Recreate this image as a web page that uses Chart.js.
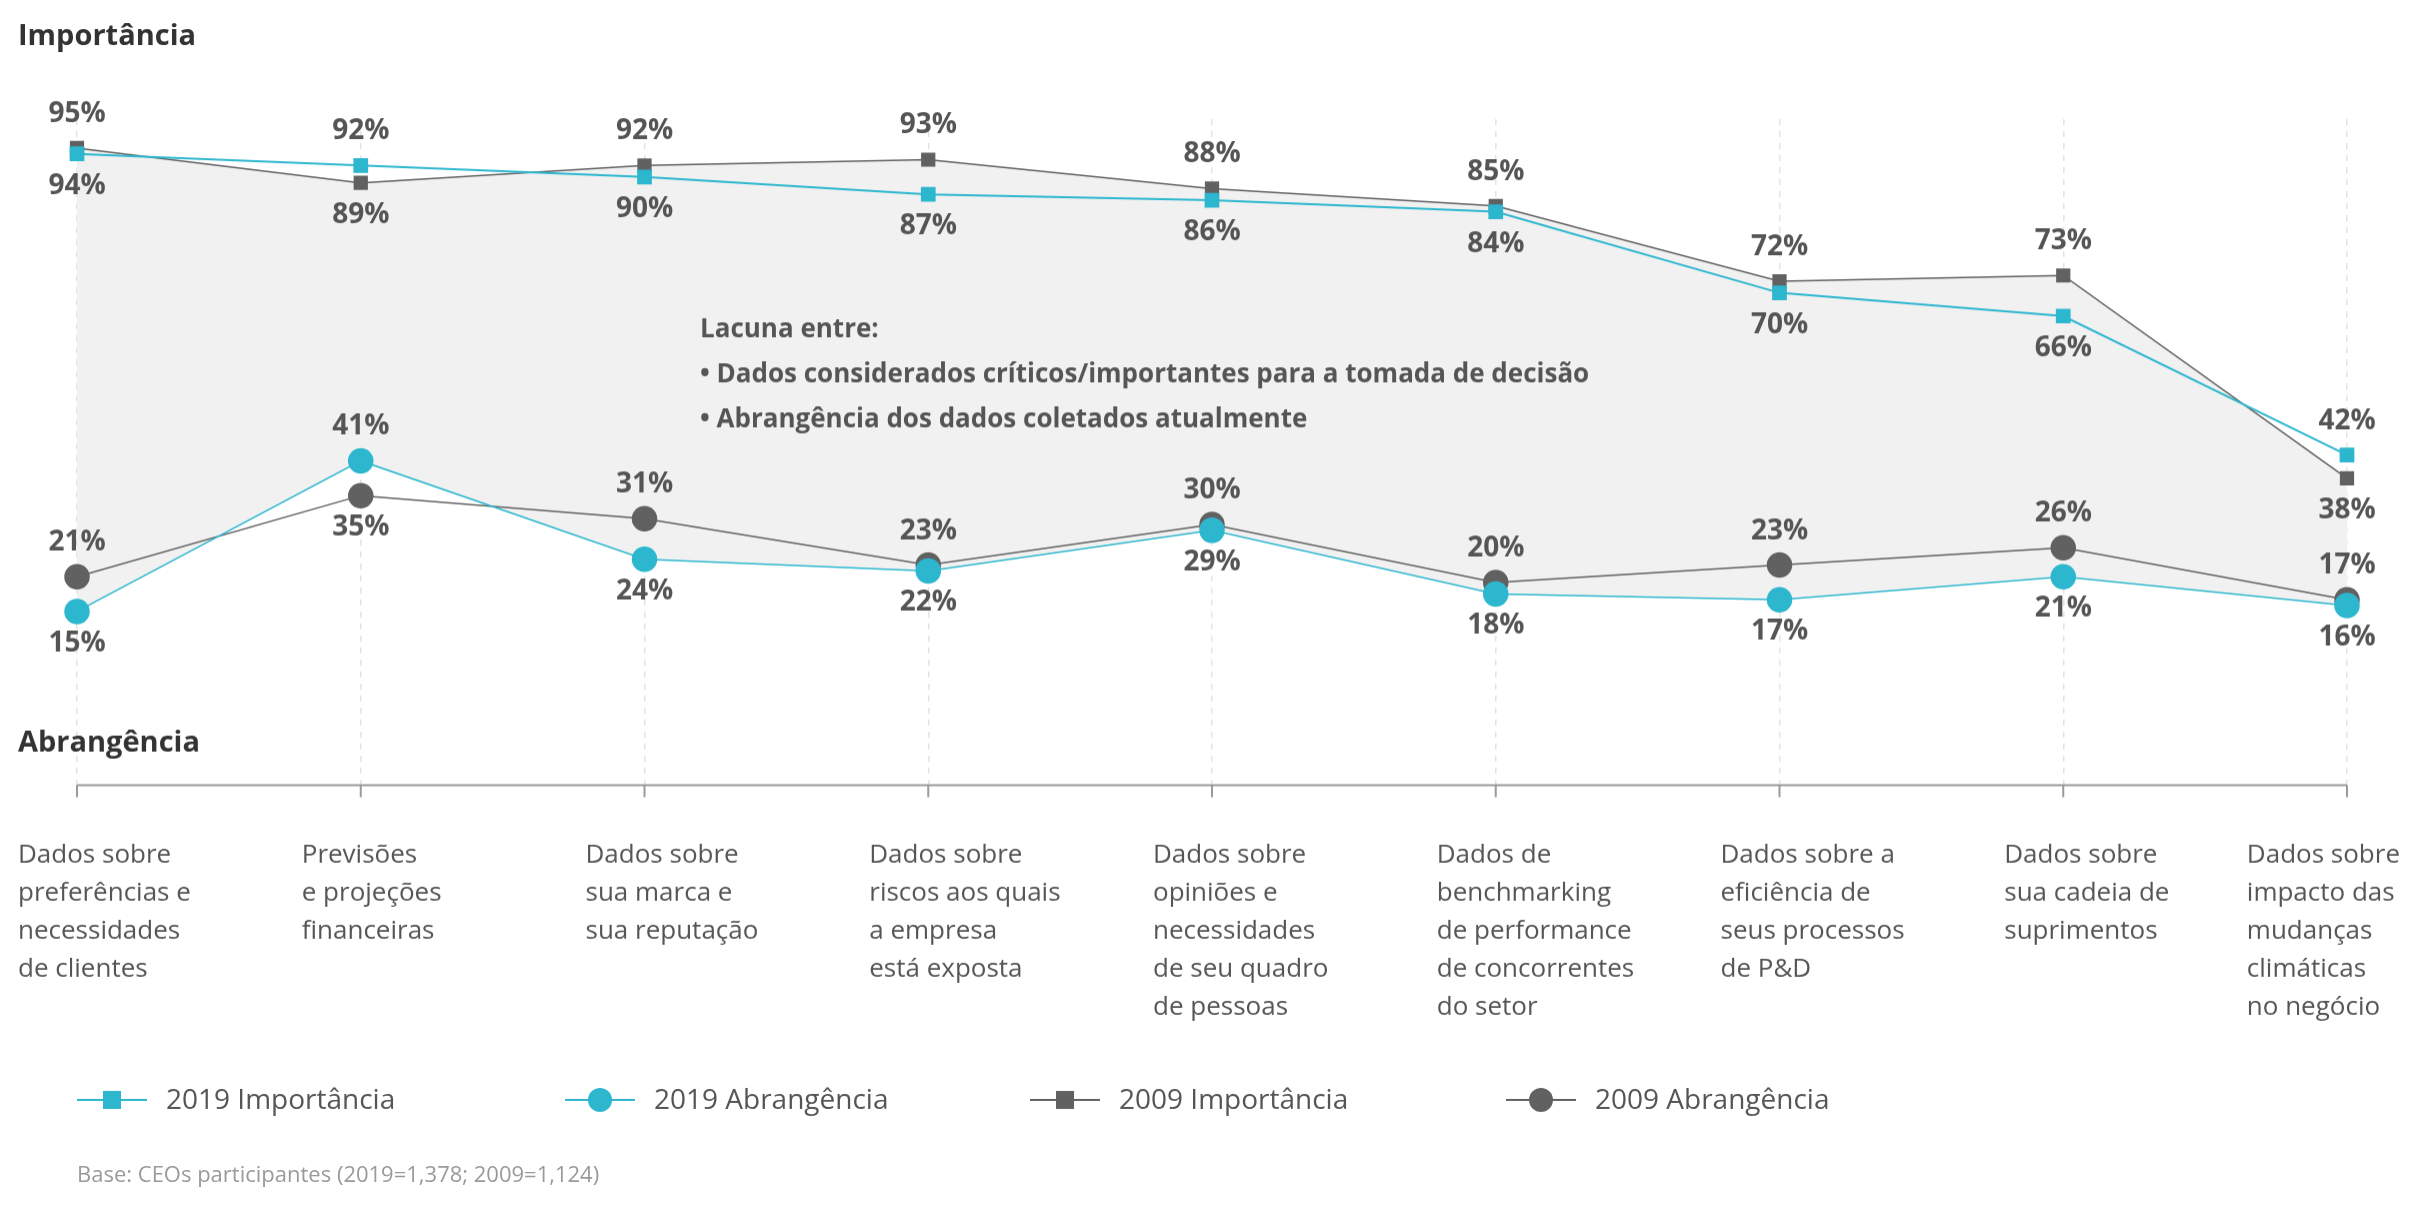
<!DOCTYPE html>
<html>
<head>
<meta charset="utf-8">
<script src="https://cdn.jsdelivr.net/npm/chart.js@4"></script>
<style>
 html,body {margin:0;padding:0;background:#fff;}
 #wrap {position:relative;width:2409px;height:1214px;}
</style>
</head>
<body>
<div id="wrap"><canvas id="chartID"></canvas></div>
<script>
// categories (multi-line labels)
var categories=[
 ['Dados sobre','preferências e','necessidades','de clientes'],
 ['Previsões','e projeções','financeiras'],
 ['Dados sobre','sua marca e','sua reputação'],
 ['Dados sobre','riscos aos quais','a empresa','está exposta'],
 ['Dados sobre','opiniões e','necessidades','de seu quadro','de pessoas'],
 ['Dados de','benchmarking','de performance','de concorrentes','do setor'],
 ['Dados sobre a','eficiência de','seus processos','de P&D'],
 ['Dados sobre','sua cadeia de','suprimentos'],
 ['Dados sobre','impacto das','mudanças','climáticas','no negócio']
];
var imp2019=[94,92,90,87,86,84,70,66,42];
var imp2009=[95,89,92,93,88,85,72,73,38];
var abr2019=[15,41,24,22,29,18,17,21,16];
var abr2009=[21,35,31,23,30,20,23,26,17];
var seriesNames=['2019 Importância','2009 Importância','2019 Abrangência','2009 Abrangência'];

var CYAN='#2db7cf', GRAY='#616161', TXT='#555555';
var FONT='"Open Sans", "Noto Sans", sans-serif';

var extras={
 id:'extras',
 afterDraw:function(chart) {
  var c=chart.ctx, x=chart.scales.x, a=chart.chartArea;
  c.save();
  // value labels: higher of each pair above, lower below
  c.font='bold 28px '+FONT; c.fillStyle=TXT; c.textAlign='center';
  [[0,1],[2,3]].forEach(function(pair){
   var m0=chart.getDatasetMeta(pair[0]), m1=chart.getDatasetMeta(pair[1]);
   var d0=chart.data.datasets[pair[0]].data, d1=chart.data.datasets[pair[1]].data;
   for (var i=0;i<d0.length;i++) {
    var p0=m0.data[i], p1=m1.data[i];
    var top=(p0.y<=p1.y)?p0:p1, bot=(p0.y<=p1.y)?p1:p0;
    var vt=(p0.y<=p1.y)?d0[i]:d1[i], vb=(p0.y<=p1.y)?d1[i]:d0[i];
    c.textBaseline='bottom'; c.fillText(vt+'%',top.x,top.y-20);
    c.textBaseline='top'; c.fillText(vb+'%',bot.x,bot.y+18);
   }
  });
  // x labels, left aligned blocks
  c.font='26px '+FONT; c.textAlign='left'; c.textBaseline='top'; c.fillStyle=TXT;
  categories.forEach(function(lines,i){
   var px=x.getPixelForValue(i)-59;
   var w=Math.max.apply(null,lines.map(function(l){return c.measureText(l).width;}));
   if (px+w>2400) px=2400-w;
   lines.forEach(function(l,j){c.fillText(l,px,842+j*38);});
  });
  // axis line + ticks
  c.strokeStyle='#9a9a9a'; c.lineWidth=2;
  c.beginPath(); c.moveTo(a.left,a.bottom); c.lineTo(a.right,a.bottom); c.stroke();
  for (var i=0;i<categories.length;i++) {
   var tx=x.getPixelForValue(i);
   c.beginPath(); c.moveTo(tx,a.bottom); c.lineTo(tx,a.bottom+12); c.stroke();
  }
  // titles
  c.fillStyle='#333'; c.font='bold 29px '+FONT; c.textBaseline='middle';
  c.fillText('Importância',18,37);
  c.fillText('Abrangência',18,743);
  // annotation
  c.fillStyle=TXT; c.font='bold 26px '+FONT;
  c.fillText('Lacuna entre:',700,330);
  c.fillText('• Dados considerados críticos/importantes para a tomada de decisão',700,375);
  c.fillText('• Abrangência dos dados coletados atualmente',700,420);
  // legend
  var lx=[77,565,1030,1506], cols=[CYAN,CYAN,GRAY,GRAY], sq=[true,false,true,false];
  var names=[seriesNames[0],seriesNames[2],seriesNames[1],seriesNames[3]];
  c.font='28px '+FONT;
  for (var k=0;k<4;k++) {
   var y=1099;
   c.strokeStyle=cols[k]; c.lineWidth=2;
   c.beginPath(); c.moveTo(lx[k],y); c.lineTo(lx[k]+70,y); c.stroke();
   c.fillStyle=cols[k];
   if (sq[k]) c.fillRect(lx[k]+26,y-9,18,18);
   else {c.beginPath(); c.arc(lx[k]+35,y,12,0,Math.PI*2); c.fill();}
   c.fillStyle=TXT; c.fillText(names[k],lx[k]+89,y+1);
  }
  c.fillStyle='#9a9a9a'; c.font='22px '+FONT;
  c.fillText('Base: CEOs participantes (2019=1,378; 2009=1,124)',77,1175);
  c.restore();
 }
};

var ctx=document.getElementById('chartID').getContext('2d');
var chart=new Chart(ctx,{
 type:'line',
 data:{labels:categories.map(function(l){return l.join(' ');}),datasets:[
  {label:seriesNames[0],data:imp2019,borderColor:CYAN,backgroundColor:CYAN,pointStyle:'rect',pointRadius:9,borderWidth:2,fill:false,order:1},
  {label:seriesNames[1],data:imp2009,borderColor:GRAY,backgroundColor:'#f1f1f1',pointBackgroundColor:GRAY,pointStyle:'rect',pointRadius:9,borderWidth:1.5,fill:'+1',order:2},
  {label:seriesNames[2],data:abr2019,borderColor:CYAN,backgroundColor:CYAN,pointStyle:'circle',pointRadius:12,borderWidth:1.5,fill:false,order:1},
  {label:seriesNames[3],data:abr2009,borderColor:GRAY,backgroundColor:GRAY,pointStyle:'circle',pointRadius:12,borderWidth:1.5,fill:false,order:1}
 ]},
 options:{
  responsive:false,animation:false,devicePixelRatio:1,
  layout:{padding:{left:77,right:62,top:119,bottom:420}},
  plugins:{legend:{display:false},tooltip:{enabled:false}},
  scales:{
   x:{offset:false,border:{display:false},ticks:{display:false},
      grid:{color:'#e3e3e3',lineWidth:1.5,tickLength:0,drawTicks:false},border:{display:false,dash:[6,6]}},
   y:{display:false,min:-15,max:100}
  }
 },
 plugins:[extras]
});
chart.canvas.width=2409; chart.canvas.height=1214; chart.resize(2409,1214);
</script>
</body>
</html>
